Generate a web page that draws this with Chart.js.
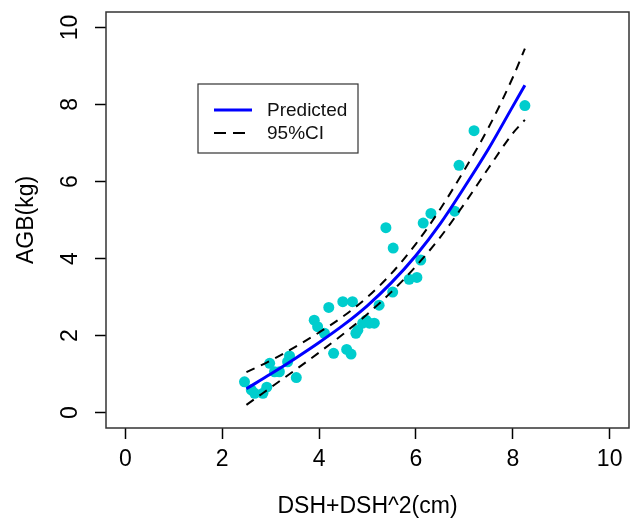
<!DOCTYPE html>
<html>
<head>
<meta charset="utf-8">
<script src="https://cdn.jsdelivr.net/npm/chart.js@4.4.1/dist/chart.umd.min.js"></script>
<style>
  body { margin: 0; background: #fff; }
  #wrap { width: 636px; height: 522px; }
</style>
</head>
<body>
<div id="wrap"><canvas id="myChart" width="636" height="522"></canvas></div>
<script>
// fitted curve and its 95% band
const fitX = [2.5, 3, 3.5, 4, 4.5, 5, 5.5, 6, 6.5, 7, 7.5, 8, 8.25];
const predicted = [0.62, 1.0, 1.4, 1.82, 2.27, 2.78, 3.38, 4.08, 4.9, 5.85, 6.85, 7.95, 8.5];
const ciUpper = [1.05, 1.35, 1.7, 2.08, 2.5, 3.0, 3.62, 4.38, 5.28, 6.3, 7.4, 8.7, 9.45];
const ciLower = [0.2, 0.65, 1.1, 1.56, 2.04, 2.56, 3.14, 3.8, 4.55, 5.42, 6.35, 7.25, 7.6];

// observed trees
const obsX = [2.46, 2.60, 2.67, 2.84, 2.92, 2.98, 3.08, 3.18, 3.35, 3.39, 3.53,
  3.90, 3.97, 4.11, 4.20, 4.30, 4.49, 4.57, 4.66, 4.69, 4.76, 4.80, 4.90, 4.97,
  5.04, 5.14, 5.24, 5.38, 5.52, 5.53, 5.86, 6.02, 6.10, 6.15, 6.31, 6.80, 6.89,
  7.20, 8.25];
const obsY = [0.80, 0.59, 0.50, 0.50, 0.66, 1.28, 1.06, 1.06, 1.32, 1.47, 0.91,
  2.40, 2.23, 2.06, 2.73, 1.54, 2.88, 1.64, 1.52, 2.88, 2.06, 2.14, 2.32, 2.40,
  2.32, 2.32, 2.79, 4.80, 3.13, 4.27, 3.46, 3.51, 3.96, 4.92, 5.17, 5.23, 6.42,
  7.32, 7.97];

const xTicks = [0, 2, 4, 6, 8, 10];
const yTicks = [0, 2, 4, 6, 8, 10];
const legendLabels = ['Predicted', '95%CI'];

const FONT = 'Liberation Sans, Arial, sans-serif';

function pairs(xs, ys) {
  return xs.map((x, i) => ({ x: x, y: ys[i] }));
}

// box around the plot region + rotated y labels + legend, R style
const rStuff = {
  id: 'rStuff',
  afterDraw(chart) {
    const ctx = chart.ctx;
    const a = chart.chartArea;
    ctx.save();
    ctx.strokeStyle = '#333';
    ctx.lineWidth = 1.5;
    ctx.strokeRect(a.left, a.top, a.right - a.left, a.bottom - a.top);

    // y tick labels, turned like R does
    const ys = chart.scales.y;
    ctx.fillStyle = '#000';
    ctx.font = '23px ' + FONT;
    ctx.textAlign = 'center';
    ctx.textBaseline = 'middle';
    yTicks.forEach(v => {
      const py = ys.getPixelForValue(v);
      ctx.save();
      ctx.translate(71, py);
      ctx.rotate(-Math.PI / 2);
      ctx.fillText(String(v), 0, 0);
      ctx.restore();
    });

    // legend
    const lx = 198, ly = 84, lw = 160, lh = 69;
    ctx.fillStyle = '#fff';
    ctx.fillRect(lx, ly, lw, lh);
    ctx.strokeStyle = '#333';
    ctx.lineWidth = 1.2;
    ctx.strokeRect(lx, ly, lw, lh);
    const ds = chart.data.datasets;
    const rows = [{ d: ds[0], y: 110 }, { d: ds[1], y: 133 }];
    rows.forEach((r, i) => {
      ctx.strokeStyle = r.d.borderColor;
      ctx.lineWidth = r.d.borderWidth;
      ctx.setLineDash(i === 1 ? [12, 7] : []);
      ctx.beginPath();
      ctx.moveTo(214, r.y);
      ctx.lineTo(252, r.y);
      ctx.stroke();
      ctx.setLineDash([]);
      ctx.fillStyle = '#111';
      ctx.font = '19px ' + FONT;
      ctx.textAlign = 'left';
      ctx.textBaseline = 'middle';
      ctx.fillText(legendLabels[i], 267, r.y + 1);
    });
    ctx.restore();
  }
};

const ctx = document.getElementById('myChart').getContext('2d');
new Chart(ctx, {
  type: 'scatter',
  data: {
    datasets: [{
      type: 'line',
      label: legendLabels[0],
      data: pairs(fitX, predicted),
      borderColor: '#0000FF',
      borderWidth: 3,
      pointRadius: 0,
      cubicInterpolationMode: 'monotone',
      fill: false
    }, {
      type: 'line',
      label: legendLabels[1],
      data: pairs(fitX, ciUpper),
      borderColor: '#000',
      borderWidth: 2,
      borderDash: [9, 7],
      pointRadius: 0,
      cubicInterpolationMode: 'monotone',
      fill: false
    }, {
      type: 'line',
      label: 'lower',
      data: pairs(fitX, ciLower),
      borderColor: '#000',
      borderWidth: 2,
      borderDash: [9, 7],
      pointRadius: 0,
      cubicInterpolationMode: 'monotone',
      fill: false
    }, {
      label: 'obs',
      data: pairs(obsX, obsY),
      backgroundColor: '#00CDCD',
      borderWidth: 0,
      pointRadius: 5.5,
      pointHoverRadius: 5.5
    }]
  },
  options: {
    responsive: false,
    animation: false,
    layout: { padding: { left: 0, right: 7, top: 12, bottom: 0 } },
    plugins: { legend: { display: false }, tooltip: { enabled: false } },
    scales: {
      x: {
        type: 'linear',
        min: -0.4,
        max: 10.4,
        afterBuildTicks: (s) => { s.ticks = xTicks.map(v => ({ value: v })); },
        afterFit: (s) => { s.height = 94; },
        grid: { drawOnChartArea: false, drawTicks: true, tickLength: 11, tickColor: '#000', tickWidth: 1.5 },
        border: { display: false },
        ticks: { color: '#000', font: { family: FONT, size: 23 }, padding: 7, maxRotation: 0 },
        title: {
          display: true,
          text: 'DSH+DSH^2(cm)',
          color: '#000',
          font: { family: FONT, size: 23 },
          padding: { top: 2, bottom: 2 }
        }
      },
      y: {
        type: 'linear',
        min: -0.4,
        max: 10.4,
        afterBuildTicks: (s) => { s.ticks = yTicks.map(v => ({ value: v })); },
        afterFit: (s) => { s.width = 106; },
        grid: { drawOnChartArea: false, drawTicks: true, tickLength: 11, tickColor: '#000', tickWidth: 1.5 },
        border: { display: false },
        ticks: { display: false },
        title: {
          display: true,
          text: 'AGB(kg)',
          color: '#000',
          font: { family: FONT, size: 23 },
          padding: { top: 13, bottom: 13 }
        }
      }
    }
  },
  plugins: [rStuff]
});
</script>
</body>
</html>
